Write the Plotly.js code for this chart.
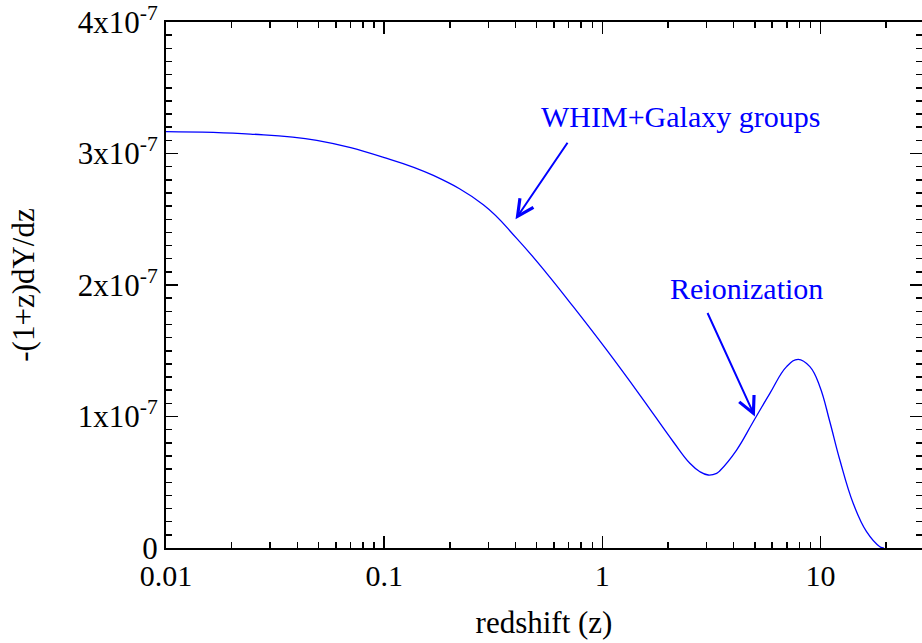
<!DOCTYPE html>
<html>
<head>
<meta charset="utf-8">
<script src="https://cdn.plot.ly/plotly-3.0.1.min.js"></script>
<style>html,body{margin:0;padding:0;background:#fff;}#chart{width:922px;height:643px;}</style>
</head>
<body>
<div id="chart"></div>
<script>
// redshift values
const redshift = [0.01, 0.0243, 0.0491, 0.0992, 0.168, 0.2847, 0.4048, 0.5557, 0.7357,
  1.046, 1.486, 2.113, 2.518, 2.799, 3.055, 3.340, 3.457, 4.123, 4.913, 5.859, 6.988,
  7.899, 8.935, 9.93, 11.03, 12.26, 14.11, 16.25, 18.70, 19.50];
// -(1+z) dY/dz in units of 1e-7
const dYdzE7 = [3.166, 3.148, 3.100, 2.971, 2.833, 2.610, 2.355, 2.089, 1.835,
  1.506, 1.163, 0.808, 0.644, 0.580, 0.555, 0.568, 0.588, 0.745, 0.960, 1.176, 1.379,
  1.435, 1.379, 1.227, 0.960, 0.669, 0.340, 0.124, 0.010, 0.0];
const dYdz = dYdzE7.map(v => v * 1e-7);

const xTickVals = [0.01, 0.1, 1, 10];
const xTickText = ['0.01', '0.1', '1', '10'];
const xMinorVals = [0.02,0.03,0.04,0.05,0.06,0.07,0.08,0.09,
  0.2,0.3,0.4,0.5,0.6,0.7,0.8,0.9, 2,3,4,5,6,7,8,9, 20];
const yTickVals = [0, 1e-7, 2e-7, 3e-7, 4e-7];
const yTickText = ['0', '1x10<sup>-7</sup>', '2x10<sup>-7</sup>', '3x10<sup>-7</sup>', '4x10<sup>-7</sup>'];

const annotLabels = ['WHIM+Galaxy groups', 'Reionization'];
const annotTextPos = [[2.29, 3.278e-7], [4.57, 1.977e-7]];
const arrowHeads = [[0.4, 2.5e-7], [5.0, 1.0e-7]];

const FONT = 'Liberation Serif, Times New Roman, serif';
const blue = '#0000ff';

const trace = {
  x: redshift, y: dYdz, type: 'scatter', mode: 'lines',
  line: {color: blue, width: 1.3, shape: 'spline', smoothing: 1.2},
  hoverinfo: 'skip', showlegend: false
};

const annotations = [
  {x: Math.log10(annotTextPos[0][0]), y: annotTextPos[0][1], xref: 'x', yref: 'y',
   text: annotLabels[0], showarrow: false, font: {family: FONT, size: 30, color: blue}},
  {x: Math.log10(annotTextPos[1][0]), y: annotTextPos[1][1], xref: 'x', yref: 'y',
   text: annotLabels[1], showarrow: false, font: {family: FONT, size: 30, color: blue}},
  {x: Math.log10(arrowHeads[0][0]), y: arrowHeads[0][1], xref: 'x', yref: 'y', text: '',
   showarrow: true, arrowhead: 5, arrowsize: 1.6, arrowwidth: 2, arrowcolor: blue, ax: 53, ay: -78, standoff: 0},
  {x: Math.log10(arrowHeads[1][0]), y: arrowHeads[1][1], xref: 'x', yref: 'y', text: '',
   showarrow: true, arrowhead: 5, arrowsize: 1.6, arrowwidth: 2, arrowcolor: blue, ax: -48, ay: -105, standoff: 0}
];

const layout = {
  width: 922, height: 643,
  margin: {l: 166, r: 0, t: 22, b: 95},
  paper_bgcolor: '#fff', plot_bgcolor: '#fff',
  font: {family: FONT, size: 30, color: '#000'},
  showlegend: false,
  xaxis: {
    type: 'log', range: [-2, 1.465],
    tickmode: 'array', tickvals: xTickVals, ticktext: xTickText,
    ticks: 'inside', ticklen: 12, tickwidth: 1.5, tickcolor: '#000',
    minor: {tickmode: 'array', tickvals: xMinorVals, ticks: 'inside', ticklen: 6, tickwidth: 1.5, tickcolor: '#000', showgrid: false},
    showline: true, linewidth: 2, linecolor: '#000', mirror: 'allticks',
    showgrid: false, zeroline: false,
    tickfont: {family: FONT, size: 30},
    title: {text: 'redshift (z)', font: {family: FONT, size: 31}, standoff: 20}
  },
  yaxis: {
    range: [0, 4e-7],
    tickmode: 'array', tickvals: yTickVals, ticktext: yTickText,
    ticks: 'inside', ticklen: 12, tickwidth: 1.5, tickcolor: '#000',
    minor: {dtick: 1e-8, ticks: 'inside', ticklen: 6, tickwidth: 1.5, tickcolor: '#000', showgrid: false},
    showline: true, linewidth: 2, linecolor: '#000', mirror: 'allticks',
    showgrid: false, zeroline: false,
    tickfont: {family: FONT, size: 31},
    title: {text: '-(1+z)dY/dz', font: {family: FONT, size: 31}, standoff: 34}
  },
  annotations: annotations
};

Plotly.newPlot('chart', [trace], layout, {displayModeBar: false, staticPlot: true});
</script>
</body>
</html>
